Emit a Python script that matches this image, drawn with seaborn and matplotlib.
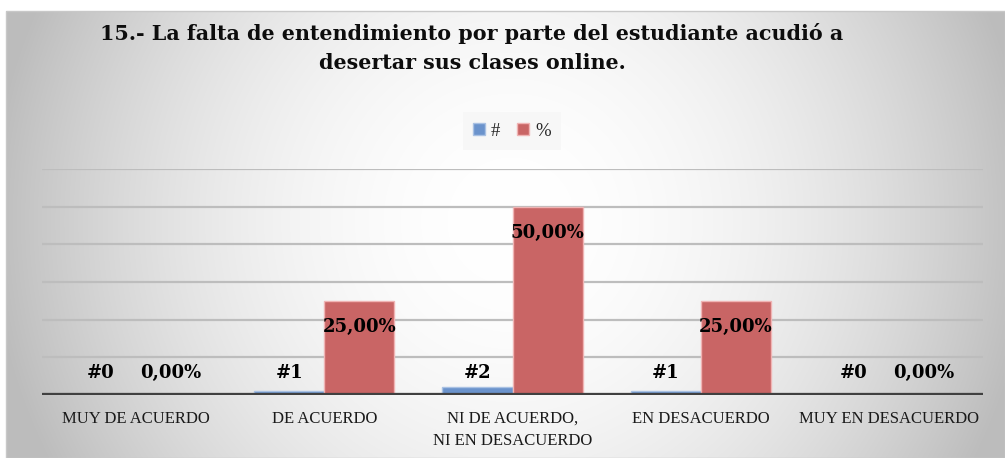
import numpy as np
import pandas as pd
import matplotlib
matplotlib.use("Agg")
import matplotlib.pyplot as plt
from matplotlib.patches import Rectangle, Patch
import seaborn as sns

# ---- data ----
categories = ["MUY DE ACUERDO", "DE ACUERDO", "NI DE ACUERDO,\nNI EN DESACUERDO",
              "EN DESACUERDO", "MUY EN DESACUERDO"]
series_names = ["#", "%"]
count_values = [0, 1, 2, 1, 0]
percent_values = [0.0, 25.0, 50.0, 25.0, 0.0]
title_text = ("15.- La falta de entendimiento por parte del estudiante acudió a\n"
              "desertar sus clases online.")

df = pd.DataFrame({
    "cat": categories * 2,
    "serie": [series_names[0]] * 5 + [series_names[1]] * 5,
    "val": count_values + percent_values,
})

sns.set_theme(style="white")
plt.rcParams["font.family"] = ["Liberation Serif", "DejaVu Serif"]
bold_family = ["DejaVu Serif"]

W, H = 1005, 458
fig = plt.figure(figsize=(W / 100, H / 100), dpi=100)
fig.patch.set_facecolor("white")

# ---- background gradient panel ----
fx0, fy_top = 6, 11
bg = fig.add_axes([fx0 / W, 0, 1 - fx0 / W, (H - fy_top) / H], zorder=-10)
gh, gw = H - fy_top, W - fx0
yy, xx = np.mgrid[0:gh, 0:gw]
cx, cy = 505, 210
t = np.sqrt(((xx - cx) / 520.0) ** 2 + ((yy - cy) / 520.0) ** 2)
v = np.clip(1 - 0.26 * t ** 2, 0.74, 1.0)
bg.imshow(np.dstack([v, v, v]), aspect="auto", extent=(0, gw, gh, 0), interpolation="bilinear")
bg.set_axis_off()
fig.add_artist(Rectangle((fx0 / W, 0), 1 - fx0 / W, (H - fy_top) / H, transform=fig.transFigure,
                         fill=False, edgecolor="#c8c8c8", linewidth=1.0))

# ---- main axes ----
left, right = 42 / W, 983 / W
base_y, top_y = 395, 169
ax = fig.add_axes([left, 1 - base_y / H, right - left, (base_y - top_y) / H])
ax.patch.set_alpha(0)

blue, red = "#6b93cc", "#c96565"
sns.barplot(data=df, x="cat", y="val", hue="serie", order=categories,
            hue_order=series_names, palette=[blue, red], width=0.745, gap=0,
            saturation=1, legend=False, ax=ax, zorder=3)
for p in ax.patches:
    fc = p.get_facecolor()
    p.set_edgecolor("#f0b4b4" if fc[0] > 0.6 else "#a9c1e3")
    p.set_linewidth(1.0)

ax.set_ylim(0, 60)
ax.set_xlim(-0.5, 4.5)
ax.set_yticks(np.arange(0, 61, 10))
ax.set_yticklabels([])
ax.grid(axis="y", color="#bdbdbd", linewidth=1.6, zorder=0)
ax.grid(axis="x", visible=False)
for s in ax.spines.values():
    s.set_visible(False)
ax.axhline(0, color="#404040", linewidth=3.8, zorder=4)
ax.set_xlabel("")
ax.set_ylabel("")
ax.tick_params(axis="x", length=0, pad=11.5)
ax.set_xticks(range(len(categories)))
ax.set_xticklabels(categories, fontsize=12, color="#1a1a1a", linespacing=1.5, va="top")
ax.tick_params(axis="y", length=0)

# ---- data labels ----
bw = 0.745 / 2
unit_per_px = 60 / (base_y - top_y)
for i in range(len(categories)):
    xb = i - bw / 2
    xr = i + bw / 2
    ax.text(xb, 22 * unit_per_px, f"#{count_values[i]}", ha="center", va="center",
            fontsize=13, fontweight="bold", color="black", zorder=6, family=bold_family)
    yv = max(percent_values[i] - 26 * unit_per_px, 22 * unit_per_px)
    ax.text(xr, yv, f"{percent_values[i]:.2f}%".replace(".", ","), ha="center", va="center",
            fontsize=13, fontweight="bold", color="black", zorder=6, family=bold_family)

# ---- title ----
fig.text(472 / W, 1 - 48 / H, title_text, ha="center", va="center", fontsize=14.9,
         fontweight="bold", color="#0d0d0d", linespacing=1.62, family=bold_family)

# ---- legend ----
handles = [Patch(facecolor=blue, edgecolor="#a9c1e3"), Patch(facecolor=red, edgecolor="#f0b4b4")]
leg = fig.legend(handles, series_names, loc="center", bbox_to_anchor=(512 / W, 1 - 131 / H),
                 ncol=2, frameon=True, fontsize=13.5, handlelength=0.6, handleheight=0.6,
                 handletextpad=0.35, columnspacing=0.9, borderpad=0.55, fancybox=False)
leg.get_frame().set_facecolor("#f6f6f6")
leg.get_frame().set_edgecolor("none")

fig.savefig("out.png", dpi=100)
